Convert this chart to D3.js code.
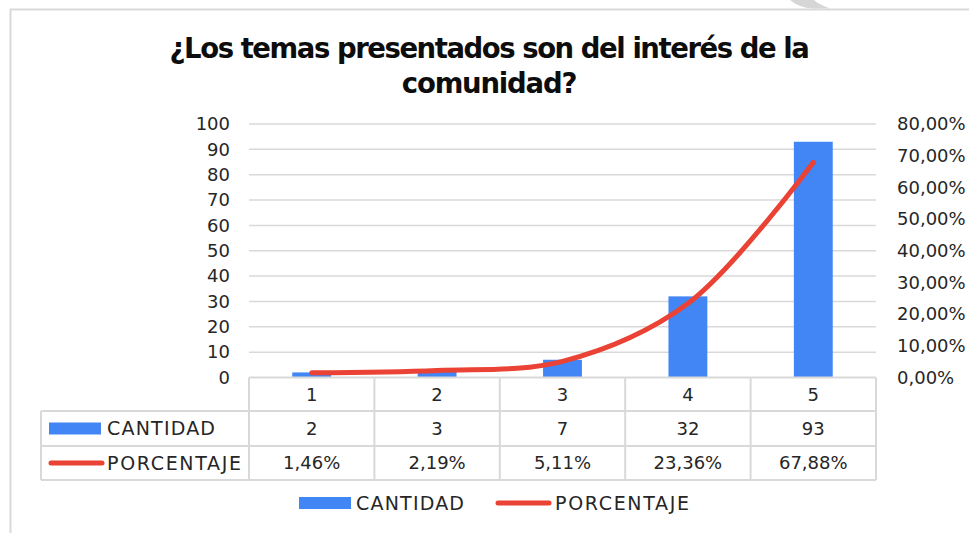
<!DOCTYPE html>
<html>
<head>
<meta charset="utf-8">
<script src="https://cdn.jsdelivr.net/npm/d3@7"></script>
<style>
  body { margin: 0; background: #fff; }
  text { font-family: "Century Gothic", "URW Gothic", "DejaVu Sans", sans-serif; fill: #262626; }
</style>
</head>
<body>
<div id="chart"></div>
<script>
// datos del grafico
var categorias = ["1", "2", "3", "4", "5"];
var cantidad = [2, 3, 7, 32, 93];
var porcentaje = [1.46, 2.19, 5.11, 23.36, 67.88];
var ticksIzq = [0, 10, 20, 30, 40, 50, 60, 70, 80, 90, 100];
var ticksDer = [0, 10, 20, 30, 40, 50, 60, 70, 80];
var series = ["CANTIDAD", "PORCENTAJE"];

(function () {
    var width = 969, height = 533;
    var azul = "#4285f4", rojo = "#ea4335", gris = "#d9d9d9";
    var fmt = function (v) { return v.toFixed(2).replace(".", ",") + "%"; };
    var anchoEtiqueta = { CANTIDAD: 108, PORCENTAJE: 134 };

    var svg = d3.select("#chart")
        .append("svg")
        .attr("width", width)
        .attr("height", height);

    // marco
    svg.append("path")
        .attr("d", "M10.5,533 L10.5,9.5 L969,9.5")
        .attr("fill", "none")
        .attr("stroke", "#d9d9d9")
        .attr("stroke-width", 2);
    svg.append("path")
        .attr("d", "M790,0 Q800,8 812,8.5 L830,8.5 Q818,4 814,0 Z")
        .attr("fill", "#d6d6d6");

    // titulo
    svg.append("text")
        .attr("x", 489).attr("y", 58)
        .attr("text-anchor", "middle")
        .attr("font-size", 27.5).attr("font-weight", "bold")
        .attr("letter-spacing", -1.45)
        .style("fill", "#0d0d0d")
        .text("¿Los temas presentados son del interés de la");
    svg.append("text")
        .attr("x", 489).attr("y", 93)
        .attr("text-anchor", "middle")
        .attr("font-size", 27.5).attr("font-weight", "bold")
        .attr("letter-spacing", -1.2)
        .style("fill", "#0d0d0d")
        .text("comunidad?");

    var x = d3.scaleBand().domain(categorias).range([249, 876]);
    var y = d3.scaleLinear().domain([0, 100]).range([377.5, 124]);
    var y2 = d3.scaleLinear().domain([0, 80]).range([377.5, 124]);

    // rejilla
    svg.append("g")
        .selectAll("line")
        .data(ticksIzq.slice(1))
        .enter().append("line")
        .attr("x1", 249).attr("x2", 876)
        .attr("y1", function (d) { return y(d); })
        .attr("y2", function (d) { return y(d); })
        .attr("stroke", gris).attr("stroke-width", 1.5);

    // ejes
    var ejeIzq = svg.append("g")
        .attr("transform", "translate(230,0)")
        .call(d3.axisLeft(y).tickValues(ticksIzq).tickSize(0).tickPadding(0));
    ejeIzq.select(".domain").remove();
    ejeIzq.selectAll("text").attr("font-size", 18).style("fill", "#262626");

    var ejeDer = svg.append("g")
        .attr("transform", "translate(897,0)")
        .call(d3.axisRight(y2).tickValues(ticksDer).tickSize(0).tickPadding(0).tickFormat(fmt));
    ejeDer.select(".domain").remove();
    ejeDer.selectAll("text").attr("font-size", 18).style("fill", "#262626");

    // barras
    var bw = x.bandwidth() * 0.31;
    svg.append("g")
        .selectAll("rect")
        .data(cantidad)
        .enter().append("rect")
        .attr("x", function (d, i) { return x(categorias[i]) + x.bandwidth() / 2 - bw / 2; })
        .attr("y", function (d) { return y(d); })
        .attr("width", bw)
        .attr("height", function (d) { return y(0) - y(d); })
        .attr("fill", azul);

    // linea
    var linea = d3.line()
        .x(function (d, i) { return x(categorias[i]) + x.bandwidth() / 2; })
        .y(function (d) { return y2(d); })
        .curve(d3.curveCatmullRom.alpha(0.5));
    svg.append("path")
        .datum(porcentaje)
        .attr("d", linea)
        .attr("fill", "none")
        .attr("stroke", rojo)
        .attr("stroke-width", 5)
        .attr("stroke-linecap", "round");

    // tabla de datos
    var filas = [377.5, 411, 446, 480];
    var t = svg.append("g").attr("stroke", gris).attr("stroke-width", 2).attr("fill", "none");
    t.append("line").attr("x1", 249).attr("x2", 876).attr("y1", filas[0]).attr("y2", filas[0]);
    [1, 2, 3].forEach(function (k) {
        t.append("line").attr("x1", 41).attr("x2", 876).attr("y1", filas[k]).attr("y2", filas[k]);
    });
    t.append("line").attr("x1", 41).attr("x2", 41).attr("y1", filas[1]).attr("y2", filas[3]);
    x.domain().forEach(function (c) {
        t.append("line").attr("x1", x(c)).attr("x2", x(c)).attr("y1", filas[0]).attr("y2", filas[3]);
    });
    t.append("line").attr("x1", 876).attr("x2", 876).attr("y1", filas[0]).attr("y2", filas[3]);

    var celdas = svg.append("g").attr("font-size", 18).attr("text-anchor", "middle");
    var valores = [categorias, cantidad.map(String), porcentaje.map(fmt)];
    valores.forEach(function (fila, k) {
        celdas.selectAll(null)
            .data(fila)
            .enter().append("text")
            .attr("x", function (d, i) { return x(categorias[i]) + x.bandwidth() / 2; })
            .attr("y", (filas[k] + filas[k + 1]) / 2)
            .attr("dy", "0.36em")
            .text(function (d) { return d; });
    });

    function clave(g, i, x0, yc) {
        if (i === 0) {
            g.append("rect").attr("x", x0).attr("y", yc - 6).attr("width", 52).attr("height", 12).attr("fill", azul);
        } else {
            g.append("line").attr("x1", x0 + 2).attr("x2", x0 + 53).attr("y1", yc).attr("y2", yc)
                .attr("stroke", rojo).attr("stroke-width", 5).attr("stroke-linecap", "round");
        }
    }

    function etiqueta(s, x0, yc) {
        svg.append("text").attr("x", x0).attr("y", yc).attr("dy", "0.36em")
            .attr("font-size", 19)
            .attr("textLength", anchoEtiqueta[s]).attr("lengthAdjust", "spacing")
            .text(s);
    }

    // claves en la tabla
    series.forEach(function (s, i) {
        var yc = (filas[i + 1] + filas[i + 2]) / 2;
        clave(svg, i, 49, yc);
        etiqueta(s, 107, yc);
    });

    // leyenda inferior
    var leyX = [299, 496];
    var textoX = [356, 555];
    series.forEach(function (s, i) {
        clave(svg, i, leyX[i], 503);
        etiqueta(s, textoX[i], 503);
    });
})()
</script>
</body>
</html>
